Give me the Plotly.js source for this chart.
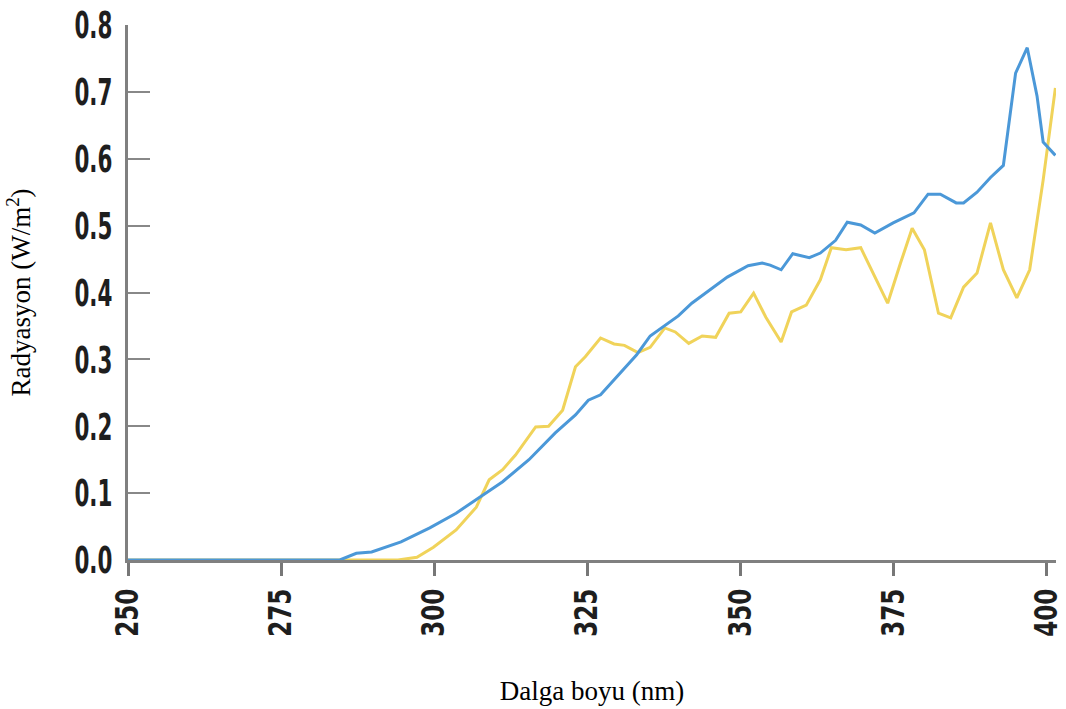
<!DOCTYPE html>
<html>
<head>
<meta charset="utf-8">
<script src="https://cdn.plot.ly/plotly-3.0.1.min.js"></script>
<style>
  html, body { margin: 0; padding: 0; background: #ffffff; }
  #chart { width: 1066px; height: 709px; }
</style>
</head>
<body>
<div id="chart"></div>
<script>
// Wavelength (nm) and radiation (W/m2)
const blueWavelength = [250, 284.6, 287.3, 289.8, 294.6, 299.3, 303.6, 307.4, 311.2, 315.5, 319.8, 323.1, 325.2, 327.2, 329.7, 333.1, 335.3, 337.7, 339.9, 342.1, 345.0, 347.9, 351.3, 353.6, 354.9, 356.7, 358.6, 361.3, 363.1, 365.6, 367.5, 369.7, 372.0, 375.0, 378.4, 380.7, 382.7, 385.3, 386.5, 388.7, 390.9, 393.0, 395.0, 396.9, 398.5, 399.5, 401.5];
const blueRadiation = [0, 0, 0.010, 0.012, 0.027, 0.048, 0.070, 0.093, 0.117, 0.150, 0.190, 0.217, 0.239, 0.247, 0.272, 0.307, 0.335, 0.350, 0.365, 0.384, 0.404, 0.423, 0.440, 0.444, 0.441, 0.434, 0.458, 0.452, 0.459, 0.478, 0.505, 0.501, 0.489, 0.504, 0.519, 0.547, 0.547, 0.534, 0.534, 0.550, 0.572, 0.590, 0.728, 0.766, 0.694, 0.625, 0.605];

const yellowWavelength = [250, 294.1, 297.2, 299.9, 303.6, 306.9, 309.0, 311.2, 313.3, 316.6, 318.7, 321.0, 323.1, 324.7, 327.2, 329.4, 331.1, 333.3, 335.3, 337.7, 339.4, 341.6, 343.8, 346.0, 348.2, 350.1, 352.2, 354.2, 356.7, 358.4, 360.8, 363.1, 364.9, 367.3, 369.7, 372.0, 374.1, 376.2, 378.1, 380.1, 382.4, 384.4, 386.5, 388.7, 390.9, 393.0, 395.2, 397.3, 399.5, 401.5];
const yellowRadiation = [0, 0, 0.004, 0.019, 0.045, 0.079, 0.120, 0.135, 0.157, 0.199, 0.200, 0.224, 0.289, 0.304, 0.332, 0.323, 0.321, 0.310, 0.318, 0.347, 0.341, 0.324, 0.335, 0.333, 0.369, 0.371, 0.399, 0.363, 0.326, 0.371, 0.381, 0.419, 0.467, 0.464, 0.467, 0.423, 0.384, 0.444, 0.496, 0.464, 0.369, 0.362, 0.408, 0.429, 0.504, 0.434, 0.392, 0.434, 0.568, 0.706];

const xTicks = [250, 275, 300, 325, 350, 375, 400];
const yTicks = [0, 0.1, 0.2, 0.3, 0.4, 0.5, 0.6, 0.7, 0.8];
const yTickText = ["0.0", "0.1", "0.2", "0.3", "0.4", "0.5", "0.6", "0.7", "0.8"];

const tickFamily = "'Liberation Sans Narrow', 'DejaVu Sans Condensed', 'Roboto Condensed', 'DejaVu Sans', sans-serif";
const yTickFont = { family: tickFamily, size: 38, color: "#1e1e1e", weight: 700 };
const xTickFont = { family: tickFamily, size: 32, color: "#1e1e1e", weight: 700 };
const titleFont = { family: "'Liberation Serif', 'Times New Roman', serif", size: 27, color: "#000000" };

const traces = [
  {
    x: yellowWavelength, y: yellowRadiation, type: "scatter", mode: "lines",
    line: { color: "#f0d35a", width: 3 }, hoverinfo: "x+y", showlegend: false
  },
  {
    x: blueWavelength, y: blueRadiation, type: "scatter", mode: "lines",
    line: { color: "#4b98d8", width: 3 }, hoverinfo: "x+y", showlegend: false
  }
];

const layout = {
  width: 1066, height: 709,
  paper_bgcolor: "#ffffff", plot_bgcolor: "#ffffff",
  margin: { l: 128, r: 10, t: 25, b: 149 },
  xaxis: {
    range: [250, 401.6], autorange: false,
    tickmode: "array", tickvals: xTicks, ticktext: xTicks.map(String),
    ticks: "outside", ticklen: 13, tickwidth: 3, tickcolor: "#777777",
    tickangle: -90, tickfont: xTickFont,
    showline: true, linecolor: "#808080", linewidth: 3,
    showgrid: false, zeroline: false,
    title: { text: "Dalga boyu (nm)", font: titleFont, standoff: 34 }
  },
  yaxis: {
    range: [0, 0.8], autorange: false,
    tickmode: "array", tickvals: yTicks, ticktext: yTickText,
    ticks: "inside", ticklen: 22, tickwidth: 2, tickcolor: "#888888",
    tickfont: yTickFont, ticklabelstandoff: 5,
    showline: true, linecolor: "#808080", linewidth: 3,
    showgrid: false, zeroline: false,
    title: { text: "Radyasyon (W/m<sup>2</sup>)", font: titleFont, standoff: 14 }
  }
};

// The reference uses a very condensed bold face; narrow the tick labels
// along their reading direction so they take the same room.
function squeeze(gd, sel, target) {
  const nodes = Array.from(gd.querySelectorAll(sel));
  if (!nodes.length) return;
  const w = nodes[0].getBBox().width;
  if (!w) return;
  const s = Math.min(1, target / w);
  nodes.forEach(n => {
    const x = parseFloat(n.getAttribute("x")) || 0;
    const y = parseFloat(n.getAttribute("y")) || 0;
    const t = n.getAttribute("transform") || "";
    n.setAttribute("transform", t + " translate(" + x + "," + y + ") scale(" + s + ",1) translate(" + (-x) + "," + (-y) + ")");
  });
}

Plotly.newPlot("chart", traces, layout, { displayModeBar: false, staticPlot: true }).then(gd => {
  squeeze(gd, ".ytick text", 38);
  squeeze(gd, ".xtick text", 48);
});
</script>
</body>
</html>
